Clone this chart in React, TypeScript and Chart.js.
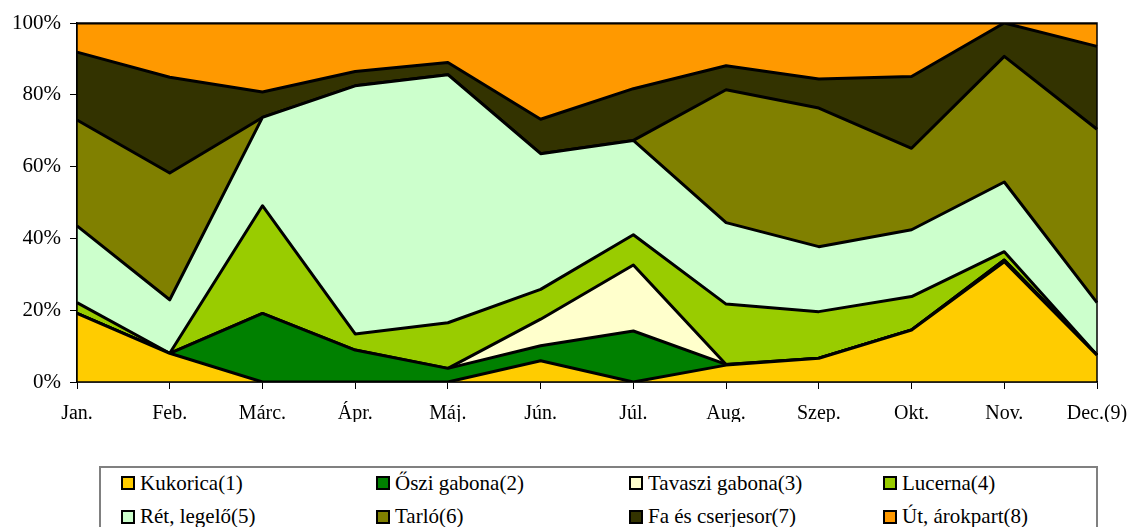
import React, { useEffect, useRef } from "react";
import { Chart, registerables } from "chart.js";

Chart.register(...registerables);

const months = ["Jan.", "Feb.", "Márc.", "Ápr.", "Máj.", "Jún.", "Júl.", "Aug.", "Szep.", "Okt.", "Nov.", "Dec.(9)"];

const kukorica = [19.1, 8.0, 0, 0, 0, 5.9, 0, 4.7, 6.6, 14.5, 33.5, 7.5];
const osziGabona = [0, 0, 19.1, 8.9, 3.8, 4.2, 14.2, 0.2, 0, 0, 0.5, 0];
const tavasziGabona = [0, 0, 0, 0, 0, 7.4, 18.4, 0, 0, 0, 0, 0];
const lucerna = [3.0, 0, 30.0, 4.5, 12.7, 8.3, 8.4, 16.8, 13.0, 9.3, 2.3, 0];
const retLegelo = [21.4, 14.9, 24.6, 69.1, 69.1, 37.8, 26.3, 22.7, 18.1, 18.6, 19.4, 14.6];
const tarlo = [29.5, 35.3, 0, 0, 0, 0, 0, 37.0, 38.6, 22.7, 35.0, 48.3];
const faCserjesor = [18.9, 26.7, 7.1, 4.0, 3.4, 9.6, 14.4, 6.7, 8.1, 20.0, 9.3, 23.1];
const utArokpart = [8.1, 15.1, 19.2, 13.5, 11.0, 26.8, 18.3, 11.9, 15.6, 14.9, 0, 6.5];

const yTicks = [0, 20, 40, 60, 80, 100];

const seriesNames = [
  "Kukorica(1)",
  "Őszi gabona(2)",
  "Tavaszi gabona(3)",
  "Lucerna(4)",
  "Rét, legelő(5)",
  "Tarló(6)",
  "Fa és cserjesor(7)",
  "Út, árokpart(8)",
];
const seriesColors = ["#FFCC00", "#008000", "#FFFFCC", "#99CC00", "#CCFFCC", "#808000", "#333300", "#FF9900"];
const seriesData = [kukorica, osziGabona, tavasziGabona, lucerna, retLegelo, tarlo, faCserjesor, utArokpart];

const FONT = '"Liberation Serif", "Times New Roman", serif';

const borderPlugin = {
  id: "plotBorder",
  afterDatasetsDraw(chart: any) {
    const { ctx, chartArea } = chart;
    ctx.save();
    ctx.strokeStyle = "#000";
    ctx.lineWidth = 1.5;
    ctx.strokeRect(chartArea.left, chartArea.top, chartArea.right - chartArea.left, chartArea.bottom - chartArea.top);
    ctx.restore();
  },
};

export default function App() {
  const canvasRef = useRef<HTMLCanvasElement | null>(null);

  useEffect(() => {
    if (!canvasRef.current) return;
    const chart = new Chart(canvasRef.current, {
      type: "line",
      data: {
        labels: months,
        datasets: seriesData.map((d, i) => ({
          label: seriesNames[i],
          data: d,
          backgroundColor: seriesColors[i],
          borderColor: "#000",
          borderWidth: 3,
          fill: i === 0 ? "origin" : "-1",
          pointRadius: 0,
          tension: 0,
        })),
      },
      options: {
        responsive: false,
        animation: false,
        layout: { padding: { left: 0, top: 23, right: 34, bottom: 18 } },
        plugins: {
          legend: { display: false },
          tooltip: { enabled: false },
        },
        elements: { line: { borderJoinStyle: "round" } },
        scales: {
          x: {
            offset: false,
            grid: { drawOnChartArea: false, drawTicks: true, tickLength: 7, color: "#000" },
            border: { display: true, color: "#000", width: 1.5 },
            ticks: { color: "#000", font: { family: FONT, size: 20 }, padding: 13, maxRotation: 0, autoSkip: false },
            afterFit(scale: any) {
              scale.height = 40;
              scale.paddingRight = 0;
              scale.paddingLeft = 0;
            },
          },
          y: {
            stacked: true,
            min: 0,
            max: 100,
            afterBuildTicks(scale: any) {
              scale.ticks = yTicks.map((v) => ({ value: v }));
            },
            grid: { drawOnChartArea: false, drawTicks: true, tickLength: 7, color: "#000" },
            border: { display: true, color: "#000", width: 1.5 },
            ticks: {
              color: "#000",
              font: { family: FONT, size: 21 },
              padding: 9,
              callback: (v: any) => v + "%",
            },
            afterFit(scale: any) {
              scale.width = 77;
              scale.paddingTop = 0;
              scale.paddingBottom = 0;
            },
          },
        },
      },
      plugins: [borderPlugin],
    });
    return () => chart.destroy();
  }, []);

  return (
    <div style={{ position: "absolute", left: 0, top: 0, width: 1131, height: 527, background: "#fff", overflow: "hidden" }}>
      <canvas ref={canvasRef} width={1131} height={440} style={{ position: "absolute", left: 0, top: 0, width: 1131, height: 440 }} />
      <div
        style={{
          position: "absolute",
          left: 99,
          top: 466,
          width: 999,
          height: 80,
          border: "2px solid #808080",
          boxSizing: "border-box",
        }}
      />
      {seriesNames.map((name, i) => {
        const col = i % 4;
        const row = Math.floor(i / 4);
        const colX = [121, 376, 629, 883][col];
        return (
          <div
            key={name}
            style={{
              position: "absolute",
              left: colX,
              top: 471 + row * 33.5,
              height: 24,
              display: "flex",
              alignItems: "center",
              fontFamily: FONT,
              fontSize: 21,
              color: "#000",
              whiteSpace: "nowrap",
            }}
          >
            <span
              style={{
                display: "inline-block",
                width: 14,
                height: 14,
                boxSizing: "border-box",
                border: "2px solid #000",
                background: seriesColors[i],
                marginRight: 5,
              }}
            />
            <span>{name}</span>
          </div>
        );
      })}
    </div>
  );
}
